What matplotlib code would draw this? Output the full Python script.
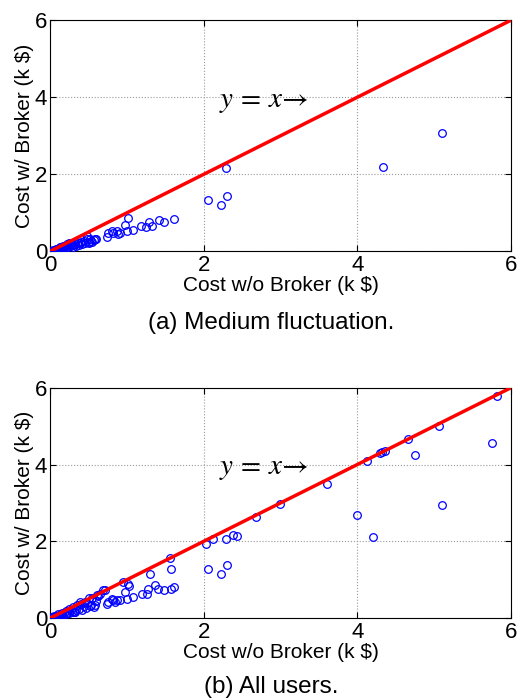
import matplotlib
matplotlib.use("Agg")
import matplotlib.pyplot as plt

# (a) medium fluctuation users: cost without / with broker (k $)
x_medium = [5.11, 4.33, 2.29, 2.06, 2.22, 2.30, 1.61, 1.48, 1.42, 1.29, 1.33, 1.25,
            1.18, 1.08, 1.02, 0.98, 1.00, 0.91, 0.87, 0.82, 0.80, 0.76, 0.74, 0.89,
            0.59, 0.52, 0.48, 0.50, 0.39, 0.30, 0.24, 0.17,
            0.02, 0.04, 0.05, 0.07, 0.08, 0.10, 0.11, 0.12, 0.14, 0.15, 0.16, 0.18,
            0.20, 0.21, 0.23, 0.25, 0.26, 0.28, 0.30, 0.32, 0.34, 0.36, 0.38, 0.40,
            0.42, 0.44, 0.46, 0.48, 0.50, 0.53, 0.55, 0.57, 0.60, 0.03, 0.06, 0.09,
            0.13, 0.19, 0.22, 0.27]
y_medium = [3.08, 2.20, 2.16, 1.33, 1.21, 1.43, 0.85, 0.76, 0.81, 0.77, 0.67, 0.64,
            0.66, 0.55, 0.86, 0.68, 0.52, 0.48, 0.52, 0.48, 0.54, 0.48, 0.37, 0.44,
            0.33, 0.31, 0.39, 0.22, 0.22, 0.17, 0.22, 0.13,
            0.01, 0.03, 0.02, 0.05, 0.04, 0.07, 0.05, 0.09, 0.08, 0.11, 0.06, 0.12,
            0.09, 0.15, 0.11, 0.20, 0.13, 0.16, 0.12, 0.18, 0.15, 0.21, 0.17, 0.24,
            0.19, 0.27, 0.21, 0.33, 0.25, 0.28, 0.24, 0.30, 0.31, 0.02, 0.04, 0.06,
            0.10, 0.14, 0.18, 0.21]

# (b) all users
x_all = [5.82, 5.76, 5.07, 5.11, 4.66, 4.75, 4.36, 4.32, 4.29, 4.13, 4.00, 4.21,
         3.61, 2.99, 2.68, 2.44, 2.38, 2.29, 2.12, 2.03, 2.06, 2.22, 2.30, 1.56,
         1.57, 1.30, 1.61, 1.58, 1.48, 1.41, 1.36, 1.28, 1.26, 1.19, 1.08, 1.02,
         1.03, 0.98, 0.95, 1.00, 0.87, 0.80, 0.74, 0.72, 0.65, 0.61, 0.91, 0.82,
         0.69, 0.50, 0.39, 0.55, 0.59, 0.52, 0.48, 0.45, 0.40, 0.35, 0.30, 0.25,
         0.20, 0.15, 0.10, 0.05, 0.57, 0.62, 0.33, 0.28, 0.22, 0.18, 0.12, 0.08,
         0.03, 0.02, 0.04, 0.06, 0.09, 0.11, 0.14, 0.16, 0.21, 0.24, 0.27, 0.31,
         0.34, 0.37, 0.42, 0.44, 0.47, 0.53, 0.60, 0.76, 0.85]
y_all = [5.78, 4.55, 5.01, 2.95, 4.66, 4.24, 4.36, 4.33, 4.30, 4.09, 2.69, 2.11,
         3.50, 2.97, 2.63, 2.15, 2.16, 2.06, 2.07, 1.94, 1.27, 1.16, 1.38, 1.57,
         1.28, 1.16, 0.81, 0.77, 0.72, 0.77, 0.87, 0.77, 0.63, 0.63, 0.55, 0.88,
         0.83, 0.68, 0.94, 0.50, 0.46, 0.50, 0.37, 0.72, 0.63, 0.61, 0.48, 0.48,
         0.73, 0.52, 0.43, 0.53, 0.33, 0.31, 0.39, 0.43, 0.38, 0.33, 0.29, 0.24,
         0.19, 0.14, 0.10, 0.05, 0.30, 0.58, 0.16, 0.15, 0.12, 0.14, 0.07, 0.06,
         0.03, 0.01, 0.02, 0.04, 0.05, 0.06, 0.08, 0.09, 0.11, 0.13, 0.20, 0.17,
         0.20, 0.24, 0.22, 0.31, 0.26, 0.34, 0.44, 0.42, 0.41]

ref_line = [0, 6]
ticks = [0, 2, 4, 6]

plt.rcParams["font.family"] = ["Liberation Sans", "DejaVu Sans"]
plt.rcParams["mathtext.fontset"] = "stix"

fig = plt.figure(figsize=(5.17, 7.0), dpi=100)

panels = [
    ([0.097, 0.641, 0.891, 0.330], x_medium, y_medium, "(a) Medium fluctuation.", 0.538),
    ([0.097, 0.117, 0.891, 0.329], x_all, y_all, "(b) All users.", 0.019),
]

for rect, xs, ys, caption, cap_y in panels:
    ax = fig.add_axes(rect)
    ax.plot(xs, ys, "o", mfc="none", mec="blue", ms=5.5, mew=0.9, zorder=3)
    ax.plot(ref_line, ref_line, color="red", lw=2.5, zorder=4)
    ax.set_xlim(0, 6)
    ax.set_ylim(0, 6)
    ax.set_xticks(ticks)
    ax.set_yticks(ticks)
    ax.tick_params(direction="in", top=True, right=True, labelsize=16, length=4)
    ax.tick_params(axis="x", pad=3)
    ax.tick_params(axis="y", pad=2)
    ax.grid(True, linestyle=":", color="#999999", lw=0.8)
    ax.set_xlabel("Cost w/o Broker (k $)", fontsize=15, labelpad=0)
    ax.set_ylabel("Cost w/ Broker (k $)", fontsize=15, labelpad=1)
    ax.text(2.2, 3.9, r"$y\,=\,x\!\rightarrow$", fontsize=21, va="center", ha="left")
    fig.text(0.525, cap_y, caption, fontsize=17.5, ha="center", va="center")

fig.savefig("out.png", dpi=100)
